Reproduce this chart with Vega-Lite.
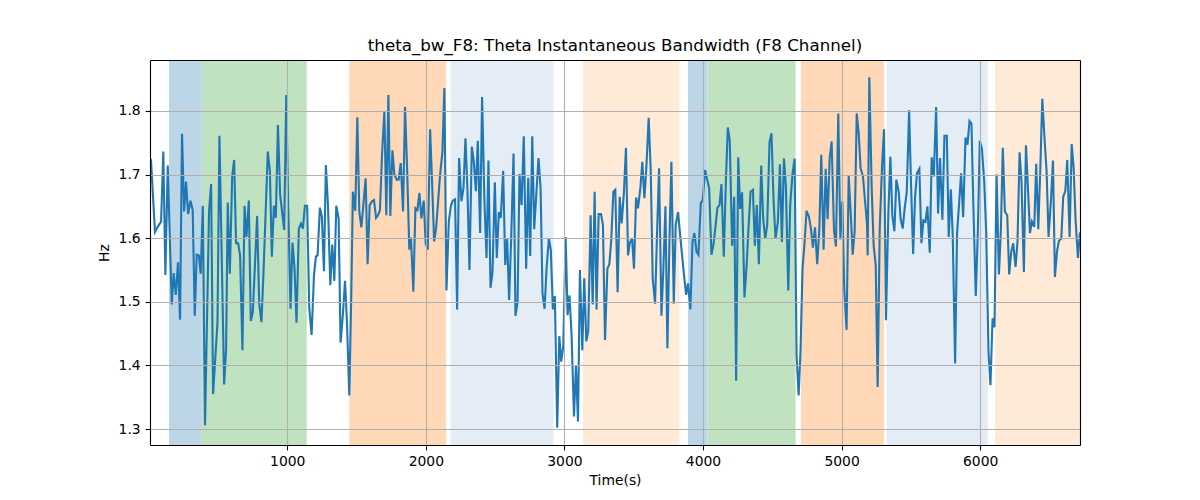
{
  "$schema": "https://vega.github.io/schema/vega-lite/v6.json",
  "width": 930,
  "height": 385,
  "autosize": "none",
  "padding": {"left": 150, "top": 60, "right": 120, "bottom": 55},
  "background": "white",
  "title": {
    "text": "theta_bw_F8: Theta Instantaneous Bandwidth (F8 Channel)",
    "frame": "group",
    "anchor": "middle",
    "baseline": "alphabetic",
    "offset": -8,
    "fontSize": 16.7,
    "fontWeight": "normal",
    "font": "DejaVu Sans",
    "color": "#000"
  },
  "datasets": {
    "spans": [
      {"start": 147, "end": 384, "phase": "A"},
      {"start": 384, "end": 1141, "phase": "B"},
      {"start": 1448, "end": 2146, "phase": "C"},
      {"start": 2178, "end": 2922, "phase": "D"},
      {"start": 3134, "end": 3830, "phase": "E"},
      {"start": 3892, "end": 4032, "phase": "A"},
      {"start": 4032, "end": 4668, "phase": "B"},
      {"start": 4706, "end": 5306, "phase": "C"},
      {"start": 5325, "end": 6055, "phase": "D"},
      {"start": 6108, "end": 6720, "phase": "E"}
    ],
    "bw": [
      {"t": 10, "hz": 1.723}, {"t": 17, "hz": 1.723}, {"t": 46, "hz": 1.610}, {"t": 63, "hz": 1.617},
      {"t": 90, "hz": 1.626}, {"t": 106, "hz": 1.736}, {"t": 121, "hz": 1.542}, {"t": 138, "hz": 1.714},
      {"t": 167, "hz": 1.496}, {"t": 181, "hz": 1.545}, {"t": 196, "hz": 1.511}, {"t": 212, "hz": 1.562},
      {"t": 227, "hz": 1.472}, {"t": 241, "hz": 1.764}, {"t": 256, "hz": 1.642}, {"t": 270, "hz": 1.689},
      {"t": 285, "hz": 1.638}, {"t": 302, "hz": 1.659}, {"t": 318, "hz": 1.644}, {"t": 333, "hz": 1.478},
      {"t": 347, "hz": 1.574}, {"t": 362, "hz": 1.573}, {"t": 376, "hz": 1.544}, {"t": 391, "hz": 1.651},
      {"t": 407, "hz": 1.306}, {"t": 436, "hz": 1.642}, {"t": 451, "hz": 1.685}, {"t": 465, "hz": 1.355},
      {"t": 497, "hz": 1.468}, {"t": 511, "hz": 1.761}, {"t": 545, "hz": 1.370}, {"t": 559, "hz": 1.425},
      {"t": 571, "hz": 1.656}, {"t": 586, "hz": 1.544}, {"t": 603, "hz": 1.697}, {"t": 617, "hz": 1.723},
      {"t": 631, "hz": 1.592}, {"t": 646, "hz": 1.592}, {"t": 660, "hz": 1.573}, {"t": 677, "hz": 1.424},
      {"t": 692, "hz": 1.651}, {"t": 706, "hz": 1.602}, {"t": 723, "hz": 1.659}, {"t": 737, "hz": 1.470},
      {"t": 752, "hz": 1.484}, {"t": 783, "hz": 1.635}, {"t": 798, "hz": 1.497}, {"t": 814, "hz": 1.468},
      {"t": 829, "hz": 1.547}, {"t": 860, "hz": 1.736}, {"t": 875, "hz": 1.705}, {"t": 889, "hz": 1.571},
      {"t": 904, "hz": 1.651}, {"t": 918, "hz": 1.632}, {"t": 933, "hz": 1.778}, {"t": 949, "hz": 1.668},
      {"t": 978, "hz": 1.613}, {"t": 993, "hz": 1.825}, {"t": 1007, "hz": 1.652}, {"t": 1024, "hz": 1.489},
      {"t": 1038, "hz": 1.593}, {"t": 1053, "hz": 1.552}, {"t": 1067, "hz": 1.467}, {"t": 1084, "hz": 1.615},
      {"t": 1099, "hz": 1.623}, {"t": 1113, "hz": 1.615}, {"t": 1128, "hz": 1.651}, {"t": 1144, "hz": 1.651},
      {"t": 1159, "hz": 1.490}, {"t": 1176, "hz": 1.448}, {"t": 1193, "hz": 1.542}, {"t": 1207, "hz": 1.571},
      {"t": 1219, "hz": 1.573}, {"t": 1236, "hz": 1.648}, {"t": 1250, "hz": 1.634}, {"t": 1265, "hz": 1.548},
      {"t": 1279, "hz": 1.715}, {"t": 1294, "hz": 1.652}, {"t": 1311, "hz": 1.526}, {"t": 1325, "hz": 1.590},
      {"t": 1340, "hz": 1.533}, {"t": 1354, "hz": 1.651}, {"t": 1371, "hz": 1.631}, {"t": 1385, "hz": 1.436},
      {"t": 1402, "hz": 1.481}, {"t": 1417, "hz": 1.533}, {"t": 1431, "hz": 1.468}, {"t": 1448, "hz": 1.353},
      {"t": 1462, "hz": 1.510}, {"t": 1474, "hz": 1.673}, {"t": 1491, "hz": 1.643}, {"t": 1506, "hz": 1.790},
      {"t": 1520, "hz": 1.642}, {"t": 1535, "hz": 1.617}, {"t": 1566, "hz": 1.694}, {"t": 1580, "hz": 1.559},
      {"t": 1595, "hz": 1.652}, {"t": 1612, "hz": 1.658}, {"t": 1626, "hz": 1.660}, {"t": 1641, "hz": 1.632},
      {"t": 1655, "hz": 1.636}, {"t": 1669, "hz": 1.644}, {"t": 1684, "hz": 1.731}, {"t": 1701, "hz": 1.800},
      {"t": 1715, "hz": 1.636}, {"t": 1730, "hz": 1.825}, {"t": 1744, "hz": 1.635}, {"t": 1759, "hz": 1.738},
      {"t": 1773, "hz": 1.700}, {"t": 1790, "hz": 1.692}, {"t": 1804, "hz": 1.692}, {"t": 1819, "hz": 1.718},
      {"t": 1836, "hz": 1.642}, {"t": 1850, "hz": 1.806}, {"t": 1865, "hz": 1.710}, {"t": 1881, "hz": 1.582},
      {"t": 1893, "hz": 1.601}, {"t": 1910, "hz": 1.516}, {"t": 1925, "hz": 1.647}, {"t": 1939, "hz": 1.644},
      {"t": 1954, "hz": 1.671}, {"t": 1968, "hz": 1.631}, {"t": 1985, "hz": 1.659}, {"t": 1999, "hz": 1.592},
      {"t": 2014, "hz": 1.582}, {"t": 2031, "hz": 1.771}, {"t": 2045, "hz": 1.689}, {"t": 2060, "hz": 1.595},
      {"t": 2074, "hz": 1.615}, {"t": 2089, "hz": 1.658}, {"t": 2103, "hz": 1.700}, {"t": 2120, "hz": 1.736},
      {"t": 2134, "hz": 1.836}, {"t": 2149, "hz": 1.518}, {"t": 2166, "hz": 1.626}, {"t": 2180, "hz": 1.650},
      {"t": 2194, "hz": 1.659}, {"t": 2211, "hz": 1.661}, {"t": 2226, "hz": 1.488}, {"t": 2240, "hz": 1.726},
      {"t": 2257, "hz": 1.658}, {"t": 2272, "hz": 1.679}, {"t": 2286, "hz": 1.757}, {"t": 2300, "hz": 1.679},
      {"t": 2315, "hz": 1.550}, {"t": 2332, "hz": 1.744}, {"t": 2346, "hz": 1.721}, {"t": 2361, "hz": 1.674},
      {"t": 2375, "hz": 1.753}, {"t": 2392, "hz": 1.608}, {"t": 2406, "hz": 1.822}, {"t": 2423, "hz": 1.658},
      {"t": 2438, "hz": 1.569}, {"t": 2452, "hz": 1.722}, {"t": 2467, "hz": 1.522}, {"t": 2481, "hz": 1.546},
      {"t": 2498, "hz": 1.688}, {"t": 2512, "hz": 1.569}, {"t": 2527, "hz": 1.641}, {"t": 2541, "hz": 1.632},
      {"t": 2558, "hz": 1.706}, {"t": 2573, "hz": 1.558}, {"t": 2587, "hz": 1.599}, {"t": 2601, "hz": 1.503},
      {"t": 2616, "hz": 1.600}, {"t": 2633, "hz": 1.733}, {"t": 2647, "hz": 1.478}, {"t": 2662, "hz": 1.500},
      {"t": 2676, "hz": 1.701}, {"t": 2691, "hz": 1.652}, {"t": 2707, "hz": 1.760}, {"t": 2724, "hz": 1.552},
      {"t": 2739, "hz": 1.695}, {"t": 2753, "hz": 1.572}, {"t": 2768, "hz": 1.760}, {"t": 2782, "hz": 1.614},
      {"t": 2813, "hz": 1.726}, {"t": 2828, "hz": 1.679}, {"t": 2842, "hz": 1.513}, {"t": 2857, "hz": 1.489},
      {"t": 2871, "hz": 1.552}, {"t": 2888, "hz": 1.600}, {"t": 2902, "hz": 1.581}, {"t": 2917, "hz": 1.488},
      {"t": 2931, "hz": 1.509}, {"t": 2948, "hz": 1.302}, {"t": 2963, "hz": 1.446}, {"t": 2977, "hz": 1.406},
      {"t": 2992, "hz": 1.431}, {"t": 3009, "hz": 1.602}, {"t": 3023, "hz": 1.479}, {"t": 3037, "hz": 1.510},
      {"t": 3052, "hz": 1.445}, {"t": 3069, "hz": 1.320}, {"t": 3083, "hz": 1.399}, {"t": 3098, "hz": 1.312},
      {"t": 3112, "hz": 1.550}, {"t": 3129, "hz": 1.424}, {"t": 3143, "hz": 1.537}, {"t": 3158, "hz": 1.438},
      {"t": 3172, "hz": 1.454}, {"t": 3189, "hz": 1.636}, {"t": 3204, "hz": 1.496}, {"t": 3218, "hz": 1.673},
      {"t": 3232, "hz": 1.488}, {"t": 3247, "hz": 1.638}, {"t": 3264, "hz": 1.638}, {"t": 3278, "hz": 1.621},
      {"t": 3293, "hz": 1.440}, {"t": 3310, "hz": 1.552}, {"t": 3324, "hz": 1.559}, {"t": 3338, "hz": 1.597},
      {"t": 3353, "hz": 1.673}, {"t": 3367, "hz": 1.676}, {"t": 3384, "hz": 1.515}, {"t": 3399, "hz": 1.665},
      {"t": 3413, "hz": 1.623}, {"t": 3430, "hz": 1.674}, {"t": 3444, "hz": 1.742}, {"t": 3459, "hz": 1.573},
      {"t": 3471, "hz": 1.592}, {"t": 3488, "hz": 1.600}, {"t": 3502, "hz": 1.552}, {"t": 3517, "hz": 1.664},
      {"t": 3531, "hz": 1.647}, {"t": 3548, "hz": 1.679}, {"t": 3562, "hz": 1.720}, {"t": 3577, "hz": 1.663},
      {"t": 3591, "hz": 1.710}, {"t": 3608, "hz": 1.789}, {"t": 3623, "hz": 1.705}, {"t": 3637, "hz": 1.537},
      {"t": 3654, "hz": 1.497}, {"t": 3668, "hz": 1.605}, {"t": 3683, "hz": 1.710}, {"t": 3700, "hz": 1.478},
      {"t": 3714, "hz": 1.552}, {"t": 3729, "hz": 1.650}, {"t": 3743, "hz": 1.427}, {"t": 3758, "hz": 1.600},
      {"t": 3772, "hz": 1.720}, {"t": 3789, "hz": 1.497}, {"t": 3803, "hz": 1.621}, {"t": 3820, "hz": 1.641},
      {"t": 3835, "hz": 1.605}, {"t": 3849, "hz": 1.573}, {"t": 3863, "hz": 1.542}, {"t": 3878, "hz": 1.511},
      {"t": 3892, "hz": 1.529}, {"t": 3909, "hz": 1.488}, {"t": 3924, "hz": 1.594}, {"t": 3938, "hz": 1.608},
      {"t": 3953, "hz": 1.579}, {"t": 3967, "hz": 1.574}, {"t": 3984, "hz": 1.655}, {"t": 3998, "hz": 1.660},
      {"t": 4015, "hz": 1.707}, {"t": 4030, "hz": 1.692}, {"t": 4044, "hz": 1.679}, {"t": 4061, "hz": 1.574},
      {"t": 4075, "hz": 1.589}, {"t": 4090, "hz": 1.618}, {"t": 4104, "hz": 1.648}, {"t": 4119, "hz": 1.652},
      {"t": 4133, "hz": 1.685}, {"t": 4150, "hz": 1.571}, {"t": 4165, "hz": 1.689}, {"t": 4179, "hz": 1.774},
      {"t": 4193, "hz": 1.753}, {"t": 4210, "hz": 1.588}, {"t": 4225, "hz": 1.665}, {"t": 4239, "hz": 1.376},
      {"t": 4254, "hz": 1.727}, {"t": 4268, "hz": 1.646}, {"t": 4282, "hz": 1.672}, {"t": 4299, "hz": 1.507},
      {"t": 4314, "hz": 1.555}, {"t": 4328, "hz": 1.615}, {"t": 4343, "hz": 1.673}, {"t": 4360, "hz": 1.676},
      {"t": 4374, "hz": 1.588}, {"t": 4388, "hz": 1.652}, {"t": 4403, "hz": 1.559}, {"t": 4420, "hz": 1.714},
      {"t": 4434, "hz": 1.631}, {"t": 4449, "hz": 1.599}, {"t": 4463, "hz": 1.621}, {"t": 4480, "hz": 1.751},
      {"t": 4494, "hz": 1.765}, {"t": 4509, "hz": 1.660}, {"t": 4523, "hz": 1.599}, {"t": 4540, "hz": 1.626},
      {"t": 4555, "hz": 1.716}, {"t": 4569, "hz": 1.594}, {"t": 4584, "hz": 1.725}, {"t": 4598, "hz": 1.681},
      {"t": 4615, "hz": 1.518}, {"t": 4629, "hz": 1.652}, {"t": 4646, "hz": 1.702}, {"t": 4661, "hz": 1.725},
      {"t": 4675, "hz": 1.416}, {"t": 4690, "hz": 1.353}, {"t": 4704, "hz": 1.426}, {"t": 4718, "hz": 1.552},
      {"t": 4733, "hz": 1.594}, {"t": 4747, "hz": 1.643}, {"t": 4764, "hz": 1.634}, {"t": 4779, "hz": 1.615},
      {"t": 4793, "hz": 1.585}, {"t": 4808, "hz": 1.617}, {"t": 4824, "hz": 1.559}, {"t": 4839, "hz": 1.613},
      {"t": 4853, "hz": 1.731}, {"t": 4870, "hz": 1.582}, {"t": 4885, "hz": 1.709}, {"t": 4899, "hz": 1.630},
      {"t": 4914, "hz": 1.726}, {"t": 4928, "hz": 1.752}, {"t": 4945, "hz": 1.612}, {"t": 4959, "hz": 1.587},
      {"t": 4976, "hz": 1.796}, {"t": 4991, "hz": 1.598}, {"t": 5005, "hz": 1.658}, {"t": 5019, "hz": 1.521},
      {"t": 5036, "hz": 1.456}, {"t": 5051, "hz": 1.698}, {"t": 5065, "hz": 1.642}, {"t": 5080, "hz": 1.574},
      {"t": 5094, "hz": 1.610}, {"t": 5109, "hz": 1.796}, {"t": 5123, "hz": 1.766}, {"t": 5137, "hz": 1.710},
      {"t": 5154, "hz": 1.697}, {"t": 5169, "hz": 1.658}, {"t": 5183, "hz": 1.623}, {"t": 5188, "hz": 1.573},
      {"t": 5200, "hz": 1.853}, {"t": 5217, "hz": 1.679}, {"t": 5231, "hz": 1.589}, {"t": 5246, "hz": 1.558},
      {"t": 5260, "hz": 1.366}, {"t": 5275, "hz": 1.615}, {"t": 5292, "hz": 1.715}, {"t": 5306, "hz": 1.771},
      {"t": 5320, "hz": 1.471}, {"t": 5337, "hz": 1.638}, {"t": 5352, "hz": 1.728}, {"t": 5366, "hz": 1.635},
      {"t": 5381, "hz": 1.611}, {"t": 5395, "hz": 1.692}, {"t": 5412, "hz": 1.673}, {"t": 5426, "hz": 1.630},
      {"t": 5441, "hz": 1.615}, {"t": 5455, "hz": 1.647}, {"t": 5470, "hz": 1.672}, {"t": 5487, "hz": 1.801},
      {"t": 5501, "hz": 1.684}, {"t": 5516, "hz": 1.575}, {"t": 5530, "hz": 1.665}, {"t": 5544, "hz": 1.702},
      {"t": 5561, "hz": 1.709}, {"t": 5576, "hz": 1.592}, {"t": 5590, "hz": 1.628}, {"t": 5605, "hz": 1.626},
      {"t": 5619, "hz": 1.650}, {"t": 5636, "hz": 1.577}, {"t": 5650, "hz": 1.727}, {"t": 5665, "hz": 1.697},
      {"t": 5682, "hz": 1.806}, {"t": 5696, "hz": 1.639}, {"t": 5710, "hz": 1.726}, {"t": 5727, "hz": 1.629},
      {"t": 5742, "hz": 1.761}, {"t": 5759, "hz": 1.761}, {"t": 5773, "hz": 1.602}, {"t": 5788, "hz": 1.677},
      {"t": 5802, "hz": 1.602}, {"t": 5819, "hz": 1.403}, {"t": 5833, "hz": 1.608}, {"t": 5848, "hz": 1.655},
      {"t": 5862, "hz": 1.702}, {"t": 5877, "hz": 1.633}, {"t": 5894, "hz": 1.758}, {"t": 5908, "hz": 1.747},
      {"t": 5923, "hz": 1.784}, {"t": 5937, "hz": 1.780}, {"t": 5951, "hz": 1.647}, {"t": 5968, "hz": 1.509},
      {"t": 5983, "hz": 1.610}, {"t": 5997, "hz": 1.753}, {"t": 6012, "hz": 1.741}, {"t": 6029, "hz": 1.689},
      {"t": 6043, "hz": 1.610}, {"t": 6060, "hz": 1.421}, {"t": 6074, "hz": 1.369}, {"t": 6089, "hz": 1.474},
      {"t": 6103, "hz": 1.460}, {"t": 6118, "hz": 1.700}, {"t": 6135, "hz": 1.543}, {"t": 6149, "hz": 1.611},
      {"t": 6163, "hz": 1.742}, {"t": 6178, "hz": 1.642}, {"t": 6195, "hz": 1.636}, {"t": 6209, "hz": 1.543},
      {"t": 6224, "hz": 1.579}, {"t": 6238, "hz": 1.592}, {"t": 6255, "hz": 1.555}, {"t": 6269, "hz": 1.594},
      {"t": 6284, "hz": 1.735}, {"t": 6298, "hz": 1.689}, {"t": 6315, "hz": 1.547}, {"t": 6330, "hz": 1.746},
      {"t": 6344, "hz": 1.681}, {"t": 6359, "hz": 1.608}, {"t": 6373, "hz": 1.626}, {"t": 6390, "hz": 1.618},
      {"t": 6404, "hz": 1.717}, {"t": 6419, "hz": 1.614}, {"t": 6433, "hz": 1.705}, {"t": 6448, "hz": 1.819},
      {"t": 6464, "hz": 1.757}, {"t": 6479, "hz": 1.705}, {"t": 6493, "hz": 1.602}, {"t": 6510, "hz": 1.658},
      {"t": 6525, "hz": 1.722}, {"t": 6539, "hz": 1.539}, {"t": 6554, "hz": 1.579}, {"t": 6568, "hz": 1.596},
      {"t": 6585, "hz": 1.599}, {"t": 6599, "hz": 1.665}, {"t": 6614, "hz": 1.674}, {"t": 6628, "hz": 1.723},
      {"t": 6645, "hz": 1.602}, {"t": 6660, "hz": 1.748}, {"t": 6674, "hz": 1.711}, {"t": 6688, "hz": 1.629},
      {"t": 6705, "hz": 1.569}, {"t": 6720, "hz": 1.609}
    ]
  },
  "layer": [
    {
      "data": {"name": "spans"},
      "mark": {"type": "rect"},
      "encoding": {
        "x": {
          "field": "start",
          "type": "quantitative",
          "scale": {"domain": [10, 6720], "nice": false, "zero": false},
          "axis": {
            "orient": "bottom",
            "title": "Time(s)",
            "values": [1000, 2000, 3000, 4000, 5000, 6000],
            "format": "d",
            "grid": true,
            "zindex": 1,
            "titlePadding": 5
          }
        },
        "x2": {"field": "end"},
        "color": {
          "field": "phase",
          "type": "nominal",
          "scale": {
            "domain": ["A", "B", "C", "D", "E"],
            "range": ["#bcd6e8", "#c0e2c0", "#ffd9b7", "#e4edf6", "#ffead8"]
          },
          "legend": null
        }
      }
    },
    {
      "data": {"name": "bw"},
      "mark": {"type": "line", "color": "#1f77b4", "strokeWidth": 2.1},
      "encoding": {
        "x": {
          "field": "t",
          "type": "quantitative",
          "scale": {"domain": [10, 6720], "nice": false, "zero": false},
          "axis": {"orient": "top", "labels": false, "ticks": false, "grid": false, "title": null, "zindex": 1}
        },
        "y": {
          "field": "hz",
          "type": "quantitative",
          "scale": {"domain": [1.275, 1.88], "nice": false, "zero": false},
          "axis": {
            "orient": "left",
            "title": "Hz",
            "values": [1.3, 1.4, 1.5, 1.6, 1.7, 1.8],
            "format": ".1f",
            "grid": true,
            "zindex": 1,
            "titlePadding": 7
          }
        }
      }
    },
    {
      "data": {"name": "bw"},
      "mark": {"type": "point", "opacity": 0},
      "encoding": {
        "y": {
          "field": "hz",
          "type": "quantitative",
          "scale": {"domain": [1.275, 1.88], "nice": false, "zero": false},
          "axis": {"orient": "right", "labels": false, "ticks": false, "grid": false, "title": null, "zindex": 1}
        }
      }
    }
  ],
  "resolve": {"axis": {"x": "independent", "y": "independent"}},
  "config": {
    "view": {"stroke": null},
    "font": "DejaVu Sans",
    "axis": {
      "labelFont": "DejaVu Sans",
      "titleFont": "DejaVu Sans",
      "labelFontSize": 13.9,
      "titleFontSize": 13.9,
      "titleFontWeight": "normal",
      "labelColor": "#000",
      "titleColor": "#000",
      "domainColor": "#000",
      "domainWidth": 1.1,
      "tickColor": "#000",
      "tickWidth": 1.1,
      "tickSize": 4.9,
      "labelPadding": 4.9,
      "gridColor": "#b0b0b0",
      "gridWidth": 1.1
    }
  }
}
